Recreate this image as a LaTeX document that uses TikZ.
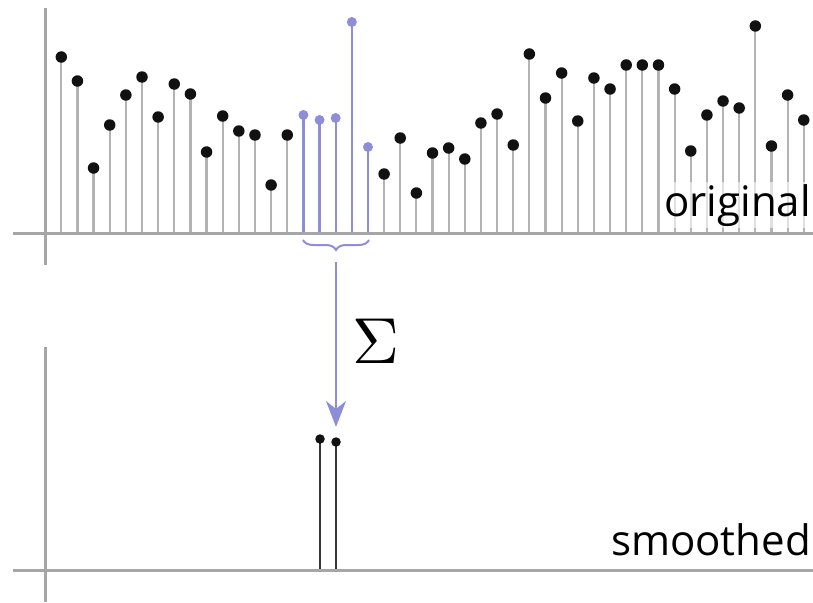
\documentclass[tikz,border=0pt]{standalone}
\usepackage{fontspec}
\setmainfont{Open Sans}
\usepackage{tikz}
\usetikzlibrary{
  arrows.meta,
  positioning,
  calc,
  decorations.pathreplacing
}
\definecolor{smAxis}{HTML}{A6A6A6}
\definecolor{smStem}{HTML}{B3B3B3}
\definecolor{smWin}{HTML}{8E8ED8}
\definecolor{smDot}{HTML}{111111}
\tikzset{
  axisline/.style={line width=3pt, smAxis},
  stem/.style={line width=2.2pt, smStem},
  winstem/.style={line width=2.2pt, smWin},
  outstem/.style={line width=2.2pt, smDot!85},
  sample/.style={circle, fill=smDot, inner sep=0pt, minimum size=11.5pt},
  winsample/.style={circle, fill=smWin, inner sep=0pt, minimum size=10pt},
  outsample/.style={circle, fill=smDot, inner sep=0pt, minimum size=9.5pt},
  plotlabel/.style={font=\fontsize{42}{42}\selectfont, fill=white, fill opacity=0.6,
    text opacity=1, inner sep=2pt, anchor=base east},
  sumarrow/.style={-{Stealth[length=26pt, width=20pt, inset=8pt]}, line width=2pt, smWin},
  brace/.style={decorate, decoration={brace, mirror, amplitude=10pt}, line width=2pt, smWin}
}

\begin{document}
\begin{tikzpicture}[x=1pt, y=-1pt]
  \useasboundingbox (0,0) rectangle (813,602);
  % original signal
  \foreach \h [count=\i] in {57,81,168,125,95,77,117,84,94,152,116,131,135,185,135,
      115,120,118,22,147,174,138,193,153,148,159,123,114,145,54,98,73,121,78,89,
      65,65,65,89,151,115,101,108,26,146,95,120} {
    \pgfmathsetmacro{\sx}{61.3+(\i-1)*16.14}
    \coordinate (b\i) at (\sx,233);
    \ifnum\i<16
      \draw[stem] (b\i) -- (\sx,\h);
    \else\ifnum\i>20
      \draw[stem] (b\i) -- (\sx,\h);
    \else
      \draw[winstem] (b\i) -- (\sx,\h);
    \fi\fi
  }
  \node[plotlabel] (orig) at (813,216) {original};
  \foreach \h [count=\i] in {57,81,168,125,95,77,117,84,94,152,116,131,135,185,135,
      115,120,118,22,147,174,138,193,153,148,159,123,114,145,54,98,73,121,78,89,
      65,65,65,89,151,115,101,108,26,146,95,120} {
    \pgfmathsetmacro{\sx}{61.3+(\i-1)*16.14}
    \ifnum\i<16
      \node[sample] (s\i) at (\sx,\h) {};
    \else\ifnum\i>20
      \node[sample] (s\i) at (\sx,\h) {};
    \else
      \node[winsample] (s\i) at (\sx,\h) {};
    \fi\fi
  }
  \draw[axisline] (13,233) -- (813,233);
  \draw[axisline] (45,8) -- (45,265);

  % window and sum
  \draw[brace] (303,240) -- (369,240) coordinate[midway] (bmid);
  \coordinate (btip) at (336,262);
  \coordinate (atip) at (336,427);
  \draw[sumarrow] (btip) -- (atip);
  \node[scale=6.5, anchor=west, inner sep=0pt] (sum) at (351,341) {$\Sigma$};

  % smoothed signal
  \node[plotlabel] (smooth) at (813,555) {smoothed};
  \coordinate (c1) at (320,570);
  \coordinate (c2) at (336,570);
  \draw[outstem] (c1) -- (320,439);
  \draw[outstem] (c2) -- (336,442);
  \node[outsample] (t1) at (320,439) {};
  \node[outsample] (t2) at (336,442) {};
  \draw[axisline] (13,570) -- (813,570);
  \draw[axisline] (45,347) -- (45,602);
\end{tikzpicture}
\end{document}
